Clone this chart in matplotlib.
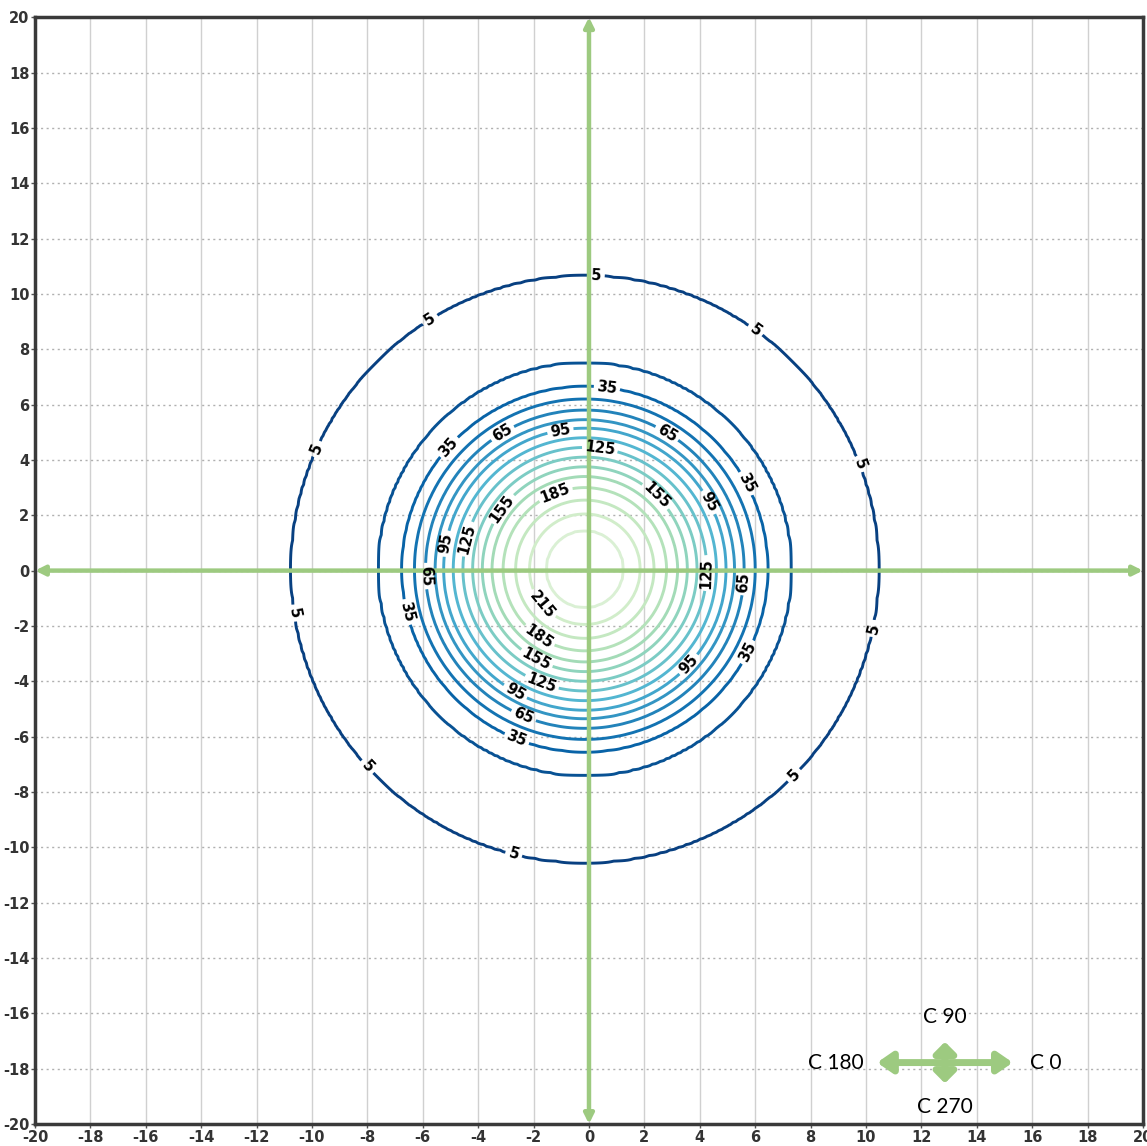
import matplotlib
matplotlib.use('Agg')
import matplotlib.pyplot as plt
import numpy as np

plt.rcParams['axes.unicode_minus'] = False

# Illuminance profile: contour level -> radius (m) where that level is reached
ring_levels = [245, 230, 215, 200, 185, 170, 155, 140, 125, 110, 95, 80, 65, 50, 35, 20, 5, 0]
ring_radius = [0.0, 1.4, 2.0, 2.5, 2.95, 3.35, 3.7, 4.05, 4.4, 4.75, 5.1, 5.4, 5.75, 6.15, 6.6, 7.45, 10.6, 14.0]
centre = (-0.15, 0.05)

plain_levels = [20, 50, 80, 110, 140, 170, 200, 230]
labelled_levels = [5, 35, 65, 95, 125, 155, 185, 215]

# where the inline labels sit
label_spots = [
    (0.25, 10.4), (-5.6, 8.8), (5.95, 8.6), (9.8, 3.86), (-10.0, 4.5), (-10.45, -1.5),
    (10.3, -2.1), (-7.9, -7.0), (7.4, -7.4), (-2.7, -10.2),
    (0.65, 6.62), (-5.05, 4.46), (5.7, 3.16), (-6.75, -1.53), (5.78, -2.98), (-2.6, -6.05),
    (2.82, 4.97), (-3.14, 5.0), (5.63, -0.42), (-5.95, -0.2), (-2.35, -5.22),
    (-1.05, 5.15), (4.33, 2.47), (-5.3, 1.0), (3.54, -3.34), (-2.67, -4.39),
    (0.4, 4.46), (-4.5, 1.17), (4.26, -0.09), (-1.7, -4.03),
    (-3.21, 2.3), (2.38, 2.66), (-1.88, -3.16),
    (-1.23, 2.84), (-1.77, -2.33),
    (-1.62, -1.17),
]

direction_labels = ['C 0', 'C 90', 'C 180', 'C 270']

xs = np.linspace(-20, 20, 401)
X, Y = np.meshgrid(xs, xs)
R = np.hypot(X - centre[0], Y - centre[1])
E = np.interp(R, ring_radius, ring_levels)

fig = plt.figure(figsize=(11.47, 11.46), dpi=100)
ax = fig.add_axes([0.0305, 0.0192, 0.966, 0.9658])

line_kw = dict(cmap='GnBu_r', vmin=5, vmax=275, linewidths=2.1, zorder=3)
ax.contour(X, Y, E, levels=plain_levels, **line_kw)
cs = ax.contour(X, Y, E, levels=labelled_levels, **line_kw)
labels = ax.clabel(cs, manual=label_spots, fmt='%d', fontsize=10.5, colors='black',
                   inline=True, inline_spacing=4)
for t in labels:
    t.set_fontweight('bold')

# green axis arrows through the origin
green = '#9dca80'
for start, end in [((-20, 0), (20, 0)), ((0, -20), (0, 20))]:
    ax.annotate('', xy=end, xytext=start,
                arrowprops=dict(arrowstyle='<|-|>', color=green, lw=3.2, mutation_scale=14,
                                shrinkA=0, shrinkB=0),
                zorder=4, annotation_clip=False)

# orientation key, bottom right
cx, cy = 12.85, -17.78
ax.annotate('', xy=(cx + 2.45, cy), xytext=(cx - 2.45, cy),
            arrowprops=dict(arrowstyle='<|-|>,head_length=0.55,head_width=0.38',
                            color=green, lw=5, mutation_scale=16, shrinkA=0, shrinkB=0),
            zorder=5)
ax.annotate('', xy=(cx, cy + 0.75), xytext=(cx, cy - 0.75),
            arrowprops=dict(arrowstyle='<|-|>,head_length=0.4,head_width=0.4',
                            color=green, lw=5, mutation_scale=16, shrinkA=0, shrinkB=0),
            zorder=5)
key_font = dict(fontsize=15, family='Lato', color='black', zorder=6)
ax.text(cx + 3.65, cy, direction_labels[0], ha='center', va='center', **key_font)
ax.text(cx, cy + 1.65, direction_labels[1], ha='center', va='center', **key_font)
ax.text(cx - 3.95, cy, direction_labels[2], ha='center', va='center', **key_font)
ax.text(cx, cy - 1.6, direction_labels[3], ha='center', va='center', **key_font)

ax.set_xlim(-20, 20)
ax.set_ylim(-20, 20)
ticks = np.arange(-20, 21, 2)
ax.set_xticks(ticks)
ax.set_yticks(ticks)
ax.tick_params(length=3, width=1, color='#555555', labelsize=10.5, pad=1)
for lab in ax.get_xticklabels() + ax.get_yticklabels():
    lab.set_fontweight('bold')
    lab.set_color('#333333')

ax.xaxis.grid(True, color='#d0d0d0', linestyle='-', linewidth=1)
ax.yaxis.grid(True, color='#b0b0b0', linestyle=(0, (1.5, 2.5)), linewidth=1)
ax.set_axisbelow(True)
for sp in ax.spines.values():
    sp.set_color('#3a3a3a')
    sp.set_linewidth(2.5)

fig.savefig('out.png', dpi=100)
